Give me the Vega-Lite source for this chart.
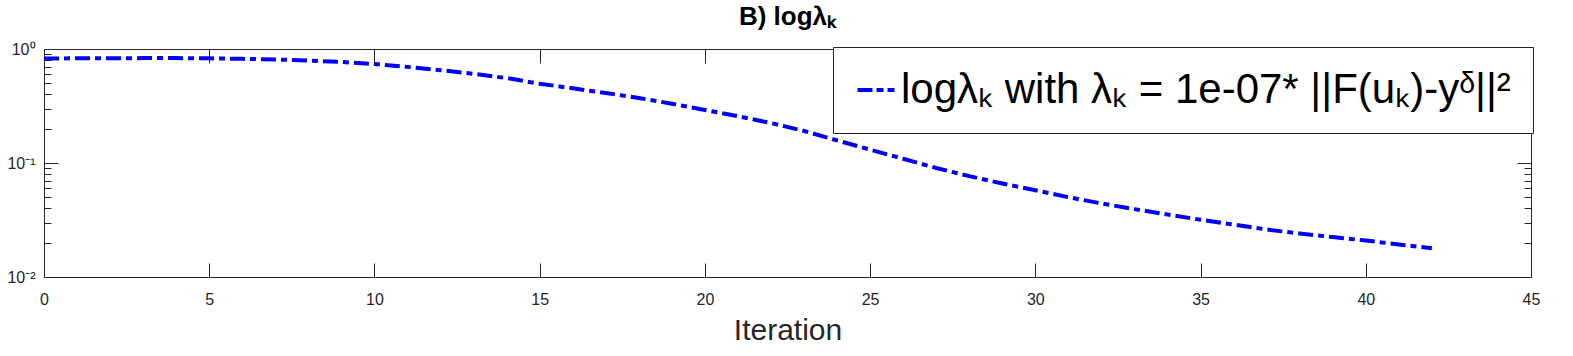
{
  "$schema": "https://vega.github.io/schema/vega-lite/v6.json",
  "width": 1487,
  "height": 228,
  "autosize": {"type": "none"},
  "padding": {"left": 44, "top": 49, "right": 42, "bottom": 79},
  "background": "white",
  "title": {"text": "B) logλₖ", "fontSize": 26, "fontWeight": "bold", "font": "Liberation Sans", "color": "#000000", "anchor": "middle", "offset": 11},
  "data": {"values": [
    {"iter": 0, "lambda": 0.826}, {"iter": 1, "lambda": 0.828}, {"iter": 2, "lambda": 0.830}, {"iter": 3, "lambda": 0.832},
    {"iter": 4, "lambda": 0.832}, {"iter": 5, "lambda": 0.828}, {"iter": 6, "lambda": 0.820}, {"iter": 7, "lambda": 0.809},
    {"iter": 8, "lambda": 0.793}, {"iter": 9, "lambda": 0.769}, {"iter": 10, "lambda": 0.738}, {"iter": 11, "lambda": 0.697},
    {"iter": 12, "lambda": 0.652}, {"iter": 13, "lambda": 0.605}, {"iter": 14, "lambda": 0.556}, {"iter": 15, "lambda": 0.496},
    {"iter": 16, "lambda": 0.452}, {"iter": 17, "lambda": 0.411}, {"iter": 18, "lambda": 0.372}, {"iter": 19, "lambda": 0.331},
    {"iter": 20, "lambda": 0.292}, {"iter": 21, "lambda": 0.257}, {"iter": 22, "lambda": 0.224}, {"iter": 23, "lambda": 0.191},
    {"iter": 24, "lambda": 0.158}, {"iter": 25, "lambda": 0.131}, {"iter": 26, "lambda": 0.109}, {"iter": 27, "lambda": 0.0904},
    {"iter": 28, "lambda": 0.0767}, {"iter": 29, "lambda": 0.0661}, {"iter": 30, "lambda": 0.0577}, {"iter": 31, "lambda": 0.0501},
    {"iter": 32, "lambda": 0.0442}, {"iter": 33, "lambda": 0.0394}, {"iter": 34, "lambda": 0.0353}, {"iter": 35, "lambda": 0.0318},
    {"iter": 36, "lambda": 0.0288}, {"iter": 37, "lambda": 0.0261}, {"iter": 38, "lambda": 0.0241}, {"iter": 39, "lambda": 0.0224},
    {"iter": 40, "lambda": 0.0209}, {"iter": 41, "lambda": 0.0193}, {"iter": 42, "lambda": 0.0179}
  ]},
  "config": {
    "font": "Liberation Sans",
    "view": {"stroke": "#262626", "strokeWidth": 1},
    "axis": {
      "domain": false,
      "grid": false,
      "tickColor": "#262626",
      "tickWidth": 1,
      "labelColor": "#262626",
      "labelFont": "Liberation Sans",
      "labelFontSize": 16,
      "titleColor": "#262626",
      "titleFont": "Liberation Sans",
      "titleFontWeight": "normal"
    }
  },
  "layer": [
    {
      "mark": {"type": "line", "strokeWidth": 4, "strokeDash": [15, 5, 6, 5], "strokeCap": "butt"},
      "encoding": {
        "x": {
          "field": "iter", "type": "quantitative",
          "scale": {"domain": [0, 45], "nice": false, "zero": false},
          "axis": {
            "orient": "bottom",
            "values": [0, 5, 10, 15, 20, 25, 30, 35, 40, 45],
            "tickSize": -14,
            "labelPadding": 28,
            "labelFlush": false,
            "title": "Iteration",
            "titleFontSize": 30,
            "titlePadding": 8
          }
        },
        "y": {
          "field": "lambda", "type": "quantitative",
          "scale": {"type": "log", "domain": [0.01, 1], "nice": false},
          "axis": {
            "orient": "left",
            "values": [0.01, 0.02, 0.03, 0.04, 0.05, 0.06, 0.07, 0.08, 0.09, 0.1, 0.2, 0.3, 0.4, 0.5, 0.6, 0.7, 0.8, 0.9, 1],
            "tickSize": {"condition": {"test": "datum.value == 1 || datum.value == 0.1 || datum.value == 0.01", "value": -14}, "value": -7},
            "labelExpr": "datum.value == 1 ? '10⁰' : datum.value == 0.1 ? '10⁻¹' : datum.value == 0.01 ? '10⁻²' : ''",
            "labelPadding": 23,
            "labelFlush": false,
            "labelOverlap": false,
            "title": null
          }
        },
        "color": {
          "datum": "logλₖ with λₖ = 1e-07* ||F(uₖ)-yᵟ||²",
          "type": "nominal",
          "scale": {"range": ["#0000ff"]},
          "legend": {
            "orient": "top-right",
            "offset": -2,
            "title": null,
            "strokeColor": "#262626",
            "fillColor": "white",
            "padding": 22,
            "cornerRadius": 0,
            "labelFontSize": 42,
            "labelFont": "Liberation Sans",
            "labelColor": "#000000",
            "labelLimit": 2000,
            "labelOffset": 4,
            "symbolType": "stroke",
            "symbolSize": 1369,
            "symbolStrokeWidth": 4,
            "symbolDash": [15, 4, 7, 4],
            "symbolStrokeColor": "#0000ff"
          }
        }
      }
    },
    {
      "mark": {"type": "line", "strokeOpacity": 0},
      "encoding": {
        "x": {
          "field": "iter", "type": "quantitative",
          "axis": {
            "orient": "top",
            "values": [0, 5, 10, 15, 20, 25, 30, 35, 40, 45],
            "tickSize": -14,
            "labels": false,
            "title": null
          }
        },
        "y": {
          "field": "lambda", "type": "quantitative",
          "axis": {
            "orient": "right",
            "values": [0.01, 0.02, 0.03, 0.04, 0.05, 0.06, 0.07, 0.08, 0.09, 0.1, 0.2, 0.3, 0.4, 0.5, 0.6, 0.7, 0.8, 0.9, 1],
            "tickSize": {"condition": {"test": "datum.value == 1 || datum.value == 0.1 || datum.value == 0.01", "value": -14}, "value": -7},
            "labels": false,
            "title": null
          }
        }
      }
    }
  ],
  "resolve": {"axis": {"x": "independent", "y": "independent"}}
}
